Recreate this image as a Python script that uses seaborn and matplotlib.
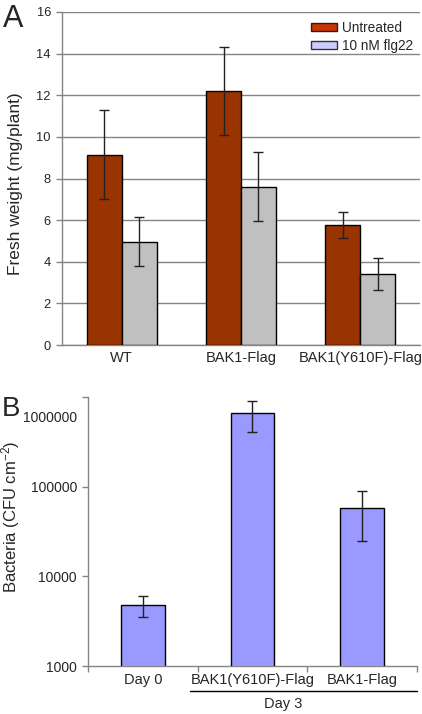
import numpy as np
import pandas as pd
import matplotlib
matplotlib.use('Agg')
import matplotlib.pyplot as plt
from matplotlib.patches import Patch
from matplotlib.ticker import FixedLocator, NullLocator
import seaborn as sns

# Panel A data: fresh weight (mg/plant)
genotypes = ['WT', 'BAK1-Flag', 'BAK1(Y610F)-Flag']
treatments = ['Untreated', '10 nM flg22']
untreated_mean = [9.15, 12.2, 5.77]
untreated_err = [2.12, 2.12, 0.63]
flg22_mean = [4.97, 7.6, 3.42]
flg22_err = [1.16, 1.66, 0.77]
a_yticks = [0, 2, 4, 6, 8, 10, 12, 14, 16]

# Panel B data: bacteria (CFU cm-2)
b_groups = ['Day 0', 'BAK1(Y610F)-Flag', 'BAK1-Flag']
b_mean = [4750, 660000, 58000]
b_err = [1250, 250000, 33000]
b_yticks = [1000, 10000, 100000, 1000000]
b_yticklabels = ['1000', '10000', '100000', '']

sns.set_style('white')
plt.rcParams['font.family'] = ['Liberation Sans', 'DejaVu Sans']
plt.rcParams['mathtext.fontset'] = 'custom'
plt.rcParams['mathtext.rm'] = 'Liberation Sans'
plt.rcParams['mathtext.it'] = 'Liberation Sans:italic'

GRAY = '#858585'

fig = plt.figure(figsize=(4.22, 7.14), dpi=100)

# ---------------- Panel A ----------------
ax1 = fig.add_axes([62 / 422, 1 - 345 / 714, 358 / 422, 333 / 714])
df_a = pd.DataFrame({
    'genotype': genotypes * 2,
    'treatment': [treatments[0]] * 3 + [treatments[1]] * 3,
    'weight': untreated_mean + flg22_mean,
    'err': untreated_err + flg22_err,
})
sns.barplot(data=df_a, x='genotype', y='weight', hue='treatment',
            palette=['#993300', '#C0C0C0'], saturation=1, width=0.585,
            edgecolor='black', linewidth=1, errorbar=None, legend=False,
            ax=ax1, zorder=3)

for cont, errs in zip(ax1.containers, [untreated_err, flg22_err]):
    xs = [b.get_x() + b.get_width() / 2 for b in cont]
    ys = [b.get_height() for b in cont]
    ax1.errorbar(xs, ys, yerr=errs, fmt='none', ecolor='#222222',
                 elinewidth=1, capsize=3.5, capthick=1, zorder=4)

ax1.set_ylim(0, 16)
ax1.set_xlim(-0.5, 2.5)
ax1.set_yticks(a_yticks)
ax1.yaxis.grid(True, color=GRAY, linewidth=1)
ax1.set_axisbelow(True)
for s in ['top', 'right']:
    ax1.spines[s].set_visible(False)
for s in ['left', 'bottom']:
    ax1.spines[s].set_color(GRAY)
    ax1.spines[s].set_linewidth(1)
ax1.tick_params(axis='y', which='major', left=True, length=4, width=1,
                color=GRAY, labelsize=9.3, pad=4)
ax1.tick_params(axis='x', length=0, labelsize=10.5, pad=4)
ax1.set_xlabel('')
ax1.set_ylabel('Fresh weight (mg/plant)', fontsize=12.5)
ax1.yaxis.set_label_coords(-0.108, 0.483)

handles = [Patch(facecolor='#CC3300', edgecolor='#222222', label=treatments[0]),
           Patch(facecolor='#CCCCFF', edgecolor='#333333', label=treatments[1])]
ax1.legend(handles=handles, loc='upper right', bbox_to_anchor=(0.997, 0.99),
           frameon=False, fontsize=9.8, handlelength=1.9, handleheight=0.5,
           handletextpad=0.4, labelspacing=0.3, borderaxespad=0.0)

# ---------------- Panel B ----------------
ax2 = fig.add_axes([88 / 422, 1 - 666 / 714, 329 / 422, 268.7 / 714])
df_b = pd.DataFrame({'group': b_groups, 'cfu': b_mean})
ax2.set_yscale('log')
sns.barplot(data=df_b, x='group', y='cfu', color='#9999FF', saturation=1,
            width=0.4, edgecolor='black', linewidth=1, errorbar=None,
            ax=ax2, zorder=3)
cont = ax2.containers[0]
xs = [b.get_x() + b.get_width() / 2 for b in cont]
ax2.errorbar(xs, b_mean, yerr=b_err, fmt='none', ecolor='#222222',
             elinewidth=1, capsize=3.5, capthick=1, zorder=4)

ax2.set_ylim(1000, 1000000)
ax2.set_xlim(-0.5, 2.5)
ax2.yaxis.set_major_locator(FixedLocator(b_yticks))
ax2.yaxis.set_minor_locator(NullLocator())
ax2.set_yticklabels(b_yticklabels)
ax2.annotate('1000000', xy=(0, 1000000), xycoords=('axes fraction', 'data'),
             xytext=(-7.5, -15), textcoords='offset points',
             ha='right', va='center', fontsize=10)
ax2.set_xticks(range(len(b_groups)))
ax2.set_xticklabels(b_groups)
ax2.set_xticks([-0.5, 0.5, 1.5, 2.5], minor=True)
ax2.tick_params(axis='x', which='major', length=0, labelsize=10.5, pad=5)
ax2.tick_params(axis='x', which='minor', bottom=True, length=4, width=1,
                color=GRAY)
ax2.tick_params(axis='y', which='major', left=True, length=4, width=1,
                color=GRAY, labelsize=10, pad=4)
for s in ['top', 'right']:
    ax2.spines[s].set_visible(False)
for s in ['left', 'bottom']:
    ax2.spines[s].set_color(GRAY)
    ax2.spines[s].set_linewidth(1)
ax2.set_xlabel('')
ax2.set_ylabel('Bacteria (CFU cm$^{-2}$)', fontsize=12)
ax2.yaxis.set_label_coords(-0.2, 0.556)

# Day 3 bracket
ax2.plot([0.31, 1.0], [-0.093, -0.093], transform=ax2.transAxes,
         color='black', linewidth=1, clip_on=False)
ax2.text(0.593, -0.14, 'Day 3', transform=ax2.transAxes, ha='center',
         va='center', fontsize=10.5)

# Panel letters
fig.text(3 / 422, 1 - 19 / 714, 'A', fontsize=22, ha='left', va='center')
fig.text(2 / 422, 1 - 409 / 714, 'B', fontsize=20, ha='left', va='center')

fig.savefig('out.png', dpi=100)
